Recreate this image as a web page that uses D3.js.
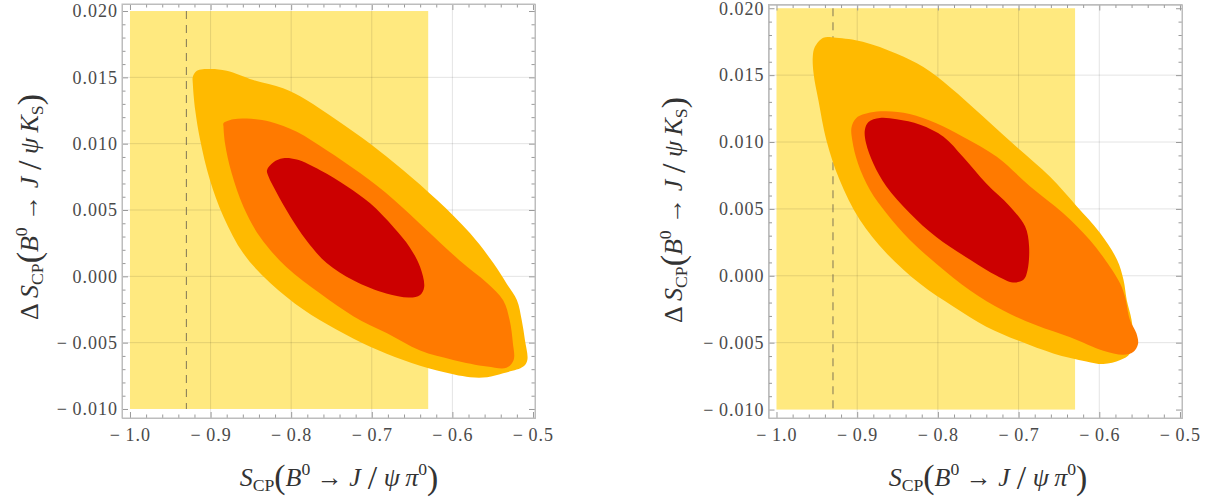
<!DOCTYPE html>
<html lang="en">
<head>
    <meta charset="UTF-8">
    <title>S_CP contours</title>
    <script src="https://d3js.org/d3.v7.min.js"></script>
    <style>
        body { margin: 0; background: #fff; }
        text { font-family: "Liberation Serif", "DejaVu Serif", serif; }
    </style>
</head>
<body>
    <div id="chart"></div>
    <script>
        // tick values and labels
        const xTicks = [-1.0, -0.9, -0.8, -0.7, -0.6, -0.5];
        const xTickLabels = ["\u2212\u20091.0", "\u2212\u20090.9", "\u2212\u20090.8", "\u2212\u20090.7", "\u2212\u20090.6", "\u2212\u20090.5"];
        const yTicks = [-0.010, -0.005, 0.000, 0.005, 0.010, 0.015, 0.020];
        const yTickLabels = ["\u2212\u20090.010", "\u2212\u20090.005", "0.000", "0.005", "0.010", "0.015", "0.020"];

        // allowed band and reference value
        const bandX = [-1.0, -0.63];
        const bandY = [-0.010, 0.020];
        const dashedX = -0.93;

        // left panel contours (outer, middle, inner)
        const leftOuter = [
            [-0.922, 0.01505], [-0.917, 0.0155], [-0.901, 0.01563], [-0.880, 0.0155], [-0.847, 0.0148],
            [-0.810, 0.01417], [-0.781, 0.0133], [-0.744, 0.0118], [-0.702, 0.0100], [-0.661, 0.0080],
            [-0.619, 0.00575], [-0.578, 0.00324], [-0.549, 0.00098], [-0.533, -0.00052], [-0.520, -0.00178],
            [-0.514, -0.00329], [-0.510, -0.0048], [-0.507, -0.0063], [-0.512, -0.0068], [-0.537, -0.0073],
            [-0.557, -0.0076], [-0.578, -0.0076], [-0.619, -0.0071], [-0.661, -0.0063], [-0.702, -0.0053],
            [-0.744, -0.0040], [-0.785, -0.0025], [-0.826, -0.0005], [-0.859, 0.0017], [-0.884, 0.0045],
            [-0.901, 0.0073], [-0.913, 0.0103], [-0.919, 0.0125], [-0.922, 0.0145]
        ];
        const leftMiddle = [
            [-0.884, 0.01154], [-0.872, 0.01184], [-0.855, 0.0119], [-0.826, 0.01166], [-0.793, 0.0109],
            [-0.756, 0.0095], [-0.715, 0.0078], [-0.673, 0.0058], [-0.632, 0.0035], [-0.591, 0.0012],
            [-0.557, -0.0005], [-0.537, -0.0018], [-0.529, -0.0033], [-0.525, -0.0050], [-0.524, -0.0063],
            [-0.533, -0.0069], [-0.557, -0.0068], [-0.599, -0.0063], [-0.640, -0.0056], [-0.681, -0.0043],
            [-0.723, -0.0030], [-0.764, -0.0013], [-0.806, 0.0007], [-0.839, 0.0030], [-0.859, 0.0052],
            [-0.874, 0.0078], [-0.882, 0.0100], [-0.884, 0.0113]
        ];
        const leftInner = [
            [-0.830, 0.0080], [-0.822, 0.0086], [-0.810, 0.0089], [-0.793, 0.0088], [-0.764, 0.0080],
            [-0.731, 0.0068], [-0.702, 0.0055], [-0.673, 0.0037], [-0.653, 0.0022], [-0.640, 0.0007],
            [-0.635, -0.0008], [-0.640, -0.0014], [-0.653, -0.0016], [-0.682, -0.0013], [-0.723, -0.0003],
            [-0.756, 0.0010], [-0.781, 0.0027], [-0.801, 0.0045], [-0.818, 0.0063], [-0.828, 0.0075]
        ];

        // right panel contours (outer, middle, inner)
        const rightOuter = [
            [-0.955, 0.0164], [-0.9525, 0.0171], [-0.942, 0.0178], [-0.926, 0.0178], [-0.893, 0.0175],
            [-0.851, 0.0166], [-0.818, 0.0156], [-0.785, 0.0141], [-0.744, 0.0119], [-0.702, 0.0096],
            [-0.661, 0.0074], [-0.628, 0.0052], [-0.599, 0.0032], [-0.578, 0.0012], [-0.570, -0.0003],
            [-0.566, -0.0018], [-0.560, -0.0033], [-0.558, -0.0048], [-0.562, -0.0058], [-0.574, -0.0063],
            [-0.595, -0.0066], [-0.616, -0.0064], [-0.657, -0.0058], [-0.698, -0.0049], [-0.740, -0.0038],
            [-0.781, -0.0023], [-0.822, -0.0006], [-0.864, 0.0017], [-0.897, 0.0042], [-0.922, 0.0072],
            [-0.938, 0.0101], [-0.948, 0.0131], [-0.954, 0.0151]
        ];
        const rightMiddle = [
            [-0.907, 0.0111], [-0.901, 0.0118], [-0.884, 0.0122], [-0.864, 0.0123], [-0.835, 0.0121],
            [-0.802, 0.0114], [-0.769, 0.0104], [-0.727, 0.0089], [-0.686, 0.0067], [-0.645, 0.0047],
            [-0.612, 0.0027], [-0.587, 0.0007], [-0.574, -0.0006], [-0.568, -0.0016], [-0.562, -0.0033],
            [-0.554, -0.0043], [-0.552, -0.0051], [-0.558, -0.0057], [-0.570, -0.0059], [-0.595, -0.0056],
            [-0.636, -0.0046], [-0.678, -0.0037], [-0.719, -0.0026], [-0.760, -0.0011], [-0.802, 0.0009],
            [-0.835, 0.0027], [-0.864, 0.0047], [-0.884, 0.0064], [-0.899, 0.0084], [-0.906, 0.0101]
        ];
        const rightInner = [
            [-0.8905, 0.0109], [-0.886, 0.0115], [-0.872, 0.0118], [-0.851, 0.0117], [-0.822, 0.0113],
            [-0.793, 0.0104], [-0.769, 0.0089], [-0.740, 0.0069], [-0.711, 0.0052], [-0.692, 0.0037],
            [-0.687, 0.0022], [-0.689, 0.0004], [-0.694, -0.0003], [-0.707, -0.0005], [-0.727, 0.0000],
            [-0.760, 0.0012], [-0.802, 0.0029], [-0.835, 0.0047], [-0.864, 0.0067], [-0.880, 0.0084],
            [-0.889, 0.0099]
        ];

        const contourColors = ["#FFBA00", "#FF7A00", "#CC0000"];

        const width = 1228;
        const height = 499;
        const serif = "'Liberation Serif', 'DejaVu Serif', serif";

        const svg = d3.select("#chart")
            .append("svg")
            .attr("width", width)
            .attr("height", height);

        const panels = [
            { left: 122, right: 535, top: 4, bottom: 418, yDomain: [-0.01068, 0.02053],
              contours: [leftOuter, leftMiddle, leftInner],
              yLabel: [38, 207], xLabel: [339, 486] },
            { left: 768.5, right: 1182, top: 4.5, bottom: 418, yDomain: [-0.01063, 0.02028],
              contours: [rightOuter, rightMiddle, rightInner],
              yLabel: [682, 210], xLabel: [988, 486] }
        ];

        const xMinor = d3.range(-1.0, -0.49, 0.02).filter(v => !xTicks.some(t => Math.abs(t - v) < 1e-6));
        const yMinor = d3.range(-0.010, 0.0205, 0.001).filter(v => !yTicks.some(t => Math.abs(t - v) < 1e-7));

        panels.forEach(p => {
            const x = d3.scaleLinear().domain([-1.0099, -0.4975]).range([p.left, p.right]);
            const y = d3.scaleLinear().domain(p.yDomain).range([p.bottom, p.top]);

            const g = svg.append("g");

            // yellow allowed band
            g.append("rect")
                .attr("x", x(bandX[0]))
                .attr("y", y(bandY[1]))
                .attr("width", x(bandX[1]) - x(bandX[0]))
                .attr("height", y(bandY[0]) - y(bandY[1]))
                .attr("fill", "#FFE97F");

            // grid lines
            g.selectAll(".gx")
                .data(xTicks.filter(t => t > -1.0 && t < -0.5))
                .enter()
                .append("line")
                .attr("x1", d => x(d)).attr("x2", d => x(d))
                .attr("y1", p.top).attr("y2", p.bottom)
                .attr("stroke", "rgba(0,0,0,0.11)")
                .attr("stroke-width", 1);

            g.selectAll(".gy")
                .data(yTicks.filter(t => t > -0.010 && t < 0.020))
                .enter()
                .append("line")
                .attr("x1", p.left).attr("x2", p.right)
                .attr("y1", d => y(d)).attr("y2", d => y(d))
                .attr("stroke", "rgba(0,0,0,0.11)")
                .attr("stroke-width", 1);

            // dashed reference line
            g.append("line")
                .attr("x1", x(dashedX)).attr("x2", x(dashedX))
                .attr("y1", y(bandY[1])).attr("y2", y(bandY[0]))
                .attr("stroke", "#6f6650")
                .attr("stroke-opacity", 0.8)
                .attr("stroke-width", 1.1)
                .attr("stroke-dasharray", "8,6");

            // contour regions
            const area = d3.line()
                .x(d => x(d[0]))
                .y(d => y(d[1]))
                .curve(d3.curveCatmullRomClosed.alpha(0.5));

            p.contours.forEach((c, i) => {
                g.append("path")
                    .datum(c)
                    .attr("d", area)
                    .attr("fill", contourColors[i]);
            });

            // frame axes with inward ticks
            const frameColor = "#bdbdbd";
            const addAxis = (axis, tr) => {
                const a = g.append("g").attr("transform", tr).call(axis)
                    .attr("font-family", null);
                a.selectAll("path.domain").attr("stroke", frameColor);
                a.selectAll(".tick line").attr("stroke", "#9a9a9a");
                a.selectAll("text")
                    .attr("fill", "#4a4a4a")
                    .style("font-family", serif)
                    .style("font-size", "18px")
                    .attr("letter-spacing", 1);
                return a;
            };

            addAxis(d3.axisBottom(x).tickValues(xTicks).tickSizeInner(-6).tickSizeOuter(0)
                .tickPadding(10).tickFormat((d, i) => xTickLabels[i]), `translate(0,${p.bottom})`);
            addAxis(d3.axisBottom(x).tickValues(xMinor).tickSizeInner(-3.5).tickSizeOuter(0)
                .tickFormat(""), `translate(0,${p.bottom})`);
            addAxis(d3.axisTop(x).tickValues(xTicks).tickSizeInner(-6).tickSizeOuter(0)
                .tickFormat(""), `translate(0,${p.top})`);
            addAxis(d3.axisTop(x).tickValues(xMinor).tickSizeInner(-3.5).tickSizeOuter(0)
                .tickFormat(""), `translate(0,${p.top})`);

            addAxis(d3.axisLeft(y).tickValues(yTicks).tickSizeInner(-6).tickSizeOuter(0)
                .tickPadding(4).tickFormat((d, i) => yTickLabels[i]), `translate(${p.left},0)`);
            addAxis(d3.axisLeft(y).tickValues(yMinor).tickSizeInner(-3.5).tickSizeOuter(0)
                .tickFormat(""), `translate(${p.left},0)`);
            addAxis(d3.axisRight(y).tickValues(yTicks).tickSizeInner(-6).tickSizeOuter(0)
                .tickFormat(""), `translate(${p.right},0)`);
            addAxis(d3.axisRight(y).tickValues(yMinor).tickSizeInner(-3.5).tickSizeOuter(0)
                .tickFormat(""), `translate(${p.right},0)`);

            // close the frame
            g.append("rect")
                .attr("x", p.left).attr("y", p.top)
                .attr("width", p.right - p.left).attr("height", p.bottom - p.top)
                .attr("fill", "none")
                .attr("stroke", frameColor);

            // axis labels
            const xl = g.append("text")
                .attr("x", p.xLabel[0])
                .attr("y", p.xLabel[1])
                .attr("text-anchor", "middle")
                .attr("font-size", 26)
                .attr("fill", "#333");
            writeLabel(xl, false);

            const yl = g.append("text")
                .attr("transform", `translate(${p.yLabel[0]},${p.yLabel[1]}) rotate(-90)`)
                .attr("text-anchor", "middle")
                .attr("font-size", 26)
                .attr("fill", "#333");
            writeLabel(yl, true);
        });

        // S_CP(B0 -> J/psi pi0) or Delta S_CP(B0 -> J/psi K_S)
        function writeLabel(t, isY) {
            if (isY) t.append("tspan").text("\u0394\u2009");
            t.append("tspan").attr("font-style", "italic").text("S");
            t.append("tspan").attr("font-size", "0.68em").attr("dy", 5).text("CP");
            t.append("tspan").attr("font-size", "1.3em").attr("dy", -3).text("(");
            t.append("tspan").attr("font-style", "italic").attr("dy", -2).text("B");
            t.append("tspan").attr("font-size", "0.68em").attr("dy", -11).text("0");
            t.append("tspan").attr("dy", 11).text(" \u2192 ");
            t.append("tspan").attr("font-style", "italic").text("J");
            t.append("tspan").attr("font-size", "1.3em").attr("dy", 3).text("\u2009/\u2009");
            t.append("tspan").attr("font-style", "italic").attr("dy", -3).text("\u03C8");
            if (isY) {
                t.append("tspan").attr("font-style", "italic").text("\u2009K");
                t.append("tspan").attr("font-size", "0.68em").attr("dy", 5).text("S");
                t.append("tspan").attr("font-size", "1.3em").attr("dy", -2).text(")");
            } else {
                t.append("tspan").attr("font-style", "italic").text("\u2009\u03C0");
                t.append("tspan").attr("font-size", "0.68em").attr("dy", -11).text("0");
                t.append("tspan").attr("font-size", "1.3em").attr("dy", 14).text(")");
            }
        }
    </script>
</body>
</html>
